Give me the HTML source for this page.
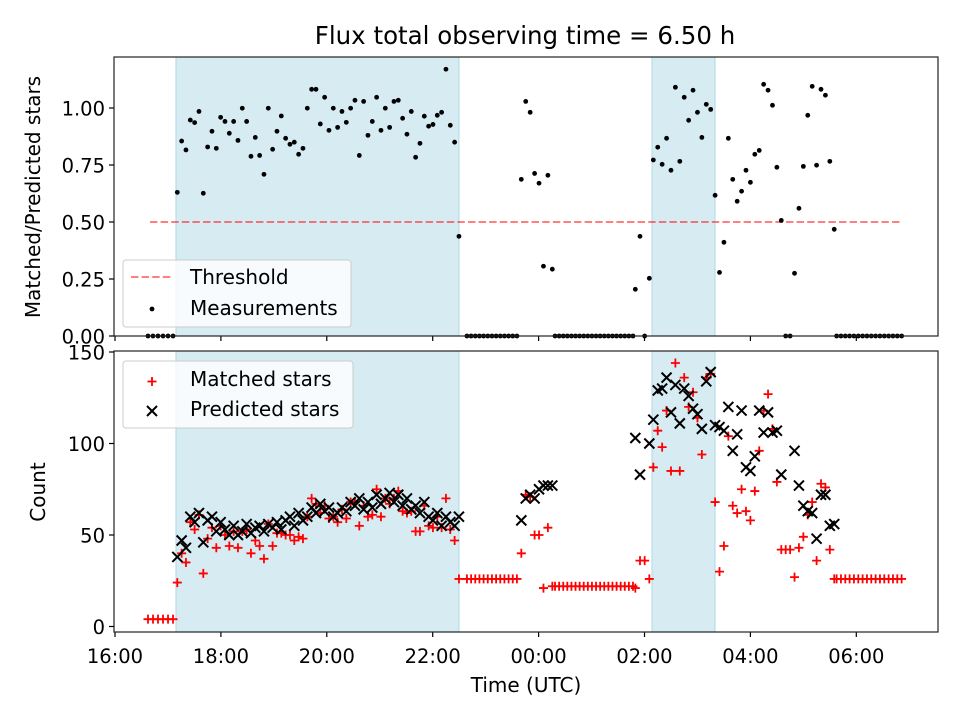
<!DOCTYPE html>
<html><head><meta charset="utf-8"><style>
html,body{margin:0;padding:0;background:#fff;}
svg{display:block;font-family:"DejaVu Sans","Liberation Sans",sans-serif;}
</style></head><body>
<svg id="chart" width="960" height="720" viewBox="0 0 960 720"></svg>
<script>
// ---- data ----
const segLengths = [6,66,13,8,20,4,42,16];
const segStartMin = [37.4,70.6,398.8,460.4,498.6,589.6,610.0,817.7]; // minutes after 16:00
const segStepMin = [5.67,4.91,4.72,5.02,4.65,5.29,5.0,4.91];
const ratio = [
0,0,0,0,0,0,
0.63,0.855,0.816,0.947,0.936,0.985,0.626,0.829,0.898,0.823,
0.959,0.941,0.889,0.941,0.858,0.999,0.941,0.788,0.871,0.792,
0.709,0.999,0.819,0.898,0.965,0.867,0.841,0.85,0.797,0.823,
0.999,1.082,1.082,0.93,1.047,0.902,0.999,0.915,0.985,0.937,
0.999,1.034,0.792,1.029,0.88,0.941,1.047,0.902,0.999,0.915,
1.029,1.034,0.955,0.885,0.985,0.784,0.845,0.964,0.92,0.928,
0.968,0.981,1.17,0.924,0.85,0.437,
0,0,0,0,0,0,0,0,0,0,0,0,0,
0.687,1.029,0.981,0.713,0.67,0.306,0.705,0.293,
0,0,0,0,0,0,0,0,0,0,0,0,0,0,0,0,0,0,0,0,
0.205,0.437,0,0.253,
0.772,0.828,0.753,0.867,0.727,1.091,0.766,1.047,0.946,1.078,
0.981,0.871,1.016,0.994,0.617,0.279,0.411,0.867,0.687,0.591,
0.635,0.727,0.674,0.797,0.814,1.104,1.078,1.012,0.74,0.507,
0,0,0.275,0.56,0.744,0.968,1.095,0.749,1.082,1.056,0.766,0.468,
0,0,0,0,0,0,0,0,0,0,0,0,0,0,0,0
];
const matched = [
4,4,4,4,4,4,
24,40,35,57,53,61,29,48,54,43,
55,50,44,52,43,52,53,40,47,44,
37,56,44,51,51,50,50,47,49,48,
60,70,67,62,66,59,60,57,64,59,
68,68,55,66,60,61,75,60,70,67,
70,74,63,62,63,52,52,66,55,54,
60,54,70,53,47,26,
26,26,26,26,26,26,26,26,26,26,26,26,26,
40,72,71,50,50,21,54,22,
22,22,22,22,22,22,22,22,22,22,22,22,22,22,22,22,22,22,22,22,
21,36,36,26,
87,107,98,118,85,144,85,136,120,128,
114,94,136,138,68,30,44,104,66,62,
75,63,58,74,96,118,127,108,79,42,
42,42,27,43,49,61,68,36,78,76,42,26,
26,26,26,26,26,26,26,26,26,26,26,26,26,26,26,26
];
const predicted = [
null,null,null,null,null,null,
38,47,43,60,57,62,46,58,60,52,
57,53,50,55,50,52,56,51,54,55,
52,56,54,57,53,58,60,55,62,58,
60,65,62,67,63,65,60,62,65,63,
68,66,70,64,68,65,72,67,70,73,
68,72,66,70,64,66,62,68,60,58,
62,55,60,57,55,60,
null,null,null,null,null,null,null,null,null,null,null,null,null,
58,70,72,70,75,77,77,77,
null,null,null,null,null,null,null,null,null,null,null,null,null,null,null,null,null,null,null,null,
103,83,null,100,
113,129,130,136,117,132,111,130,126,119,
116,108,134,139,110,109,107,120,96,105,
118,87,85,93,118,106,117,106,107,83,
null,null,96,77,66,63,62,48,72,72,55,56,
null,null,null,null,null,null,null,null,null,null,null,null,null,null,null,null
];
const shadeStartMin = [69.1, 608.5];
const shadeEndMin = [389.8, 679.9];
const thresholdValue = 0.5;
const thresholdSpanMin = [39.7, 891.7];
const xTickLabels = ["16:00","18:00","20:00","22:00","00:00","02:00","04:00","06:00"];
const xTickMin = [0,120,240,360,480,600,720,840];
const topTicks = [0,0.25,0.5,0.75,1.0];
const topTickLabels = ["0.00","0.25","0.50","0.75","1.00"];
const botTicks = [0,50,100,150];
const botTickLabels = ["0","50","100","150"];

// ---- layout ----
const NS = "http://www.w3.org/2000/svg";
const svg = document.getElementById("chart");
const L = 114, R = 938;
const TT = 57, TB = 336, BT = 351, BB = 632;
const xs = m => 115 + m * 0.8825;
const yTop = v => TB - v * 228;
const yBot = v => 626.5 - v * 1.83;

function el(tag, attrs, parent) {
  const e = document.createElementNS(NS, tag);
  for (const k in attrs) e.setAttribute(k, attrs[k]);
  (parent || svg).appendChild(e);
  return e;
}
function txt(s, attrs, parent) { const t = el("text", attrs, parent); t.textContent = s; return t; }

// times
const times = [];
segLengths.forEach((n, s) => { for (let i = 0; i < n; i++) times.push(segStartMin[s] + i * segStepMin[s]); });

// title
const title = txt("Flux total observing time = 6.50 h", {x:525, y:44, "text-anchor":"middle", "font-size":"24.5"});



// panels
[[TT,TB,'top-panel'],[BT,BB,'bottom-panel']].forEach(([t,b,name]) => {
  const g = el("g", {});
  
  
  for (let i = 0; i < shadeStartMin.length; i++) {
    const r = el("rect", {x:xs(shadeStartMin[i]), y:t, width:xs(shadeEndMin[i])-xs(shadeStartMin[i]), height:b-t, fill:"#add8e6", "fill-opacity":"0.5", stroke:"#add8e6", "stroke-width":"1"}, g);
    
    
  }
  xTickMin.forEach(m => { el("line", {x1:xs(m), x2:xs(m), y1:b, y2:b+5, stroke:"#000", "stroke-width":"1.2"}, g); });
});

// top panel content
const thr = el("line", {x1:xs(thresholdSpanMin[0]), x2:xs(thresholdSpanMin[1]), y1:yTop(thresholdValue), y2:yTop(thresholdValue), stroke:"#ff0000", "stroke-opacity":"0.5", "stroke-width":"2", "stroke-dasharray":"7.4,3.2"});


const dots = el("g", {fill:"#000"});


ratio.forEach((v, i) => {
  const c = el("circle", {cx:xs(times[i]), cy:yTop(v), r:2.4}, dots);
  
  
});

// bottom panel content
const gm = el("g", {stroke:"#ff0000", "stroke-width":"1.8"});


matched.forEach((v, i) => {
  const x = xs(times[i]), y = yBot(v);
  const p = el("path", {d:`M${x-4.5},${y}H${x+4.5}M${x},${y-4.5}V${y+4.5}`}, gm);
  
  
});
const gp = el("g", {stroke:"#000", "stroke-width":"2"});


predicted.forEach((v, i) => {
  if (v === null) return;
  const x = xs(times[i]), y = yBot(v), d = 5;
  const p = el("path", {d:`M${x-d},${y-d}L${x+d},${y+d}M${x-d},${y+d}L${x+d},${y-d}`}, gp);
  
  
});

// frames
[[TT,TB,'top-frame'],[BT,BB,'bottom-frame']].forEach(([t,b,n]) => {
  const f = el("rect", {x:L, y:t, width:R-L, height:b-t, fill:"none", stroke:"#222", "stroke-width":"1.2"});
  
  
});

// y ticks
topTicks.forEach((v, i) => {
  el("line", {x1:L-5, x2:L, y1:yTop(v), y2:yTop(v), stroke:"#000", "stroke-width":"1.2"});
  const t = txt(topTickLabels[i], {x:L-9, y:yTop(v)+7.3, "text-anchor":"end", "font-size":"19.5"});
  
  
});
botTicks.forEach((v, i) => {
  el("line", {x1:L-5, x2:L, y1:yBot(v), y2:yBot(v), stroke:"#000", "stroke-width":"1.2"});
  const t = txt(botTickLabels[i], {x:L-9, y:yBot(v)+7.3, "text-anchor":"end", "font-size":"19.5"});
  
  
});
xTickMin.forEach((m, i) => {
  const t = txt(xTickLabels[i], {x:xs(m), y:663, "text-anchor":"middle", "font-size":"19.5"});
  
  
});

// axis titles
const yt1 = txt("Matched/Predicted stars", {x:0, y:0, "text-anchor":"middle", "font-size":"20", transform:"translate(40,197) rotate(-90)"});


const yt2 = txt("Count", {x:0, y:0, "text-anchor":"middle", "font-size":"20", transform:"translate(45,492) rotate(-90)"});


const xt = txt("Time (UTC)", {x:526, y:692, "text-anchor":"middle", "font-size":"20"});



// legends
const lg1 = el("g", {});


el("rect", {x:123, y:260, width:228, height:67, rx:3, fill:"#fff", "fill-opacity":"0.8", stroke:"#ccc"}, lg1);
el("line", {x1:131, x2:173, y1:277, y2:277, stroke:"#ff0000", "stroke-opacity":"0.5", "stroke-width":"2", "stroke-dasharray":"7.4,3.2"}, lg1);
txt("Threshold", {x:190, y:284, "font-size":"20"}, lg1);
el("circle", {cx:152, cy:309, r:2.4, fill:"#000"}, lg1);
txt("Measurements", {x:190, y:315, "font-size":"20"}, lg1);

const lg2 = el("g", {});


el("rect", {x:123, y:361, width:230, height:67, rx:3, fill:"#fff", "fill-opacity":"0.8", stroke:"#ccc"}, lg2);
el("path", {d:"M147.5,381.5H156.5M152,377V386", stroke:"#ff0000", "stroke-width":"1.8"}, lg2);
txt("Matched stars", {x:190, y:386, "font-size":"20"}, lg2);
el("path", {d:"M147,406L157,416M147,416L157,406", stroke:"#000", "stroke-width":"2"}, lg2);
txt("Predicted stars", {x:190, y:416, "font-size":"20"}, lg2);
</script>
</body></html>
